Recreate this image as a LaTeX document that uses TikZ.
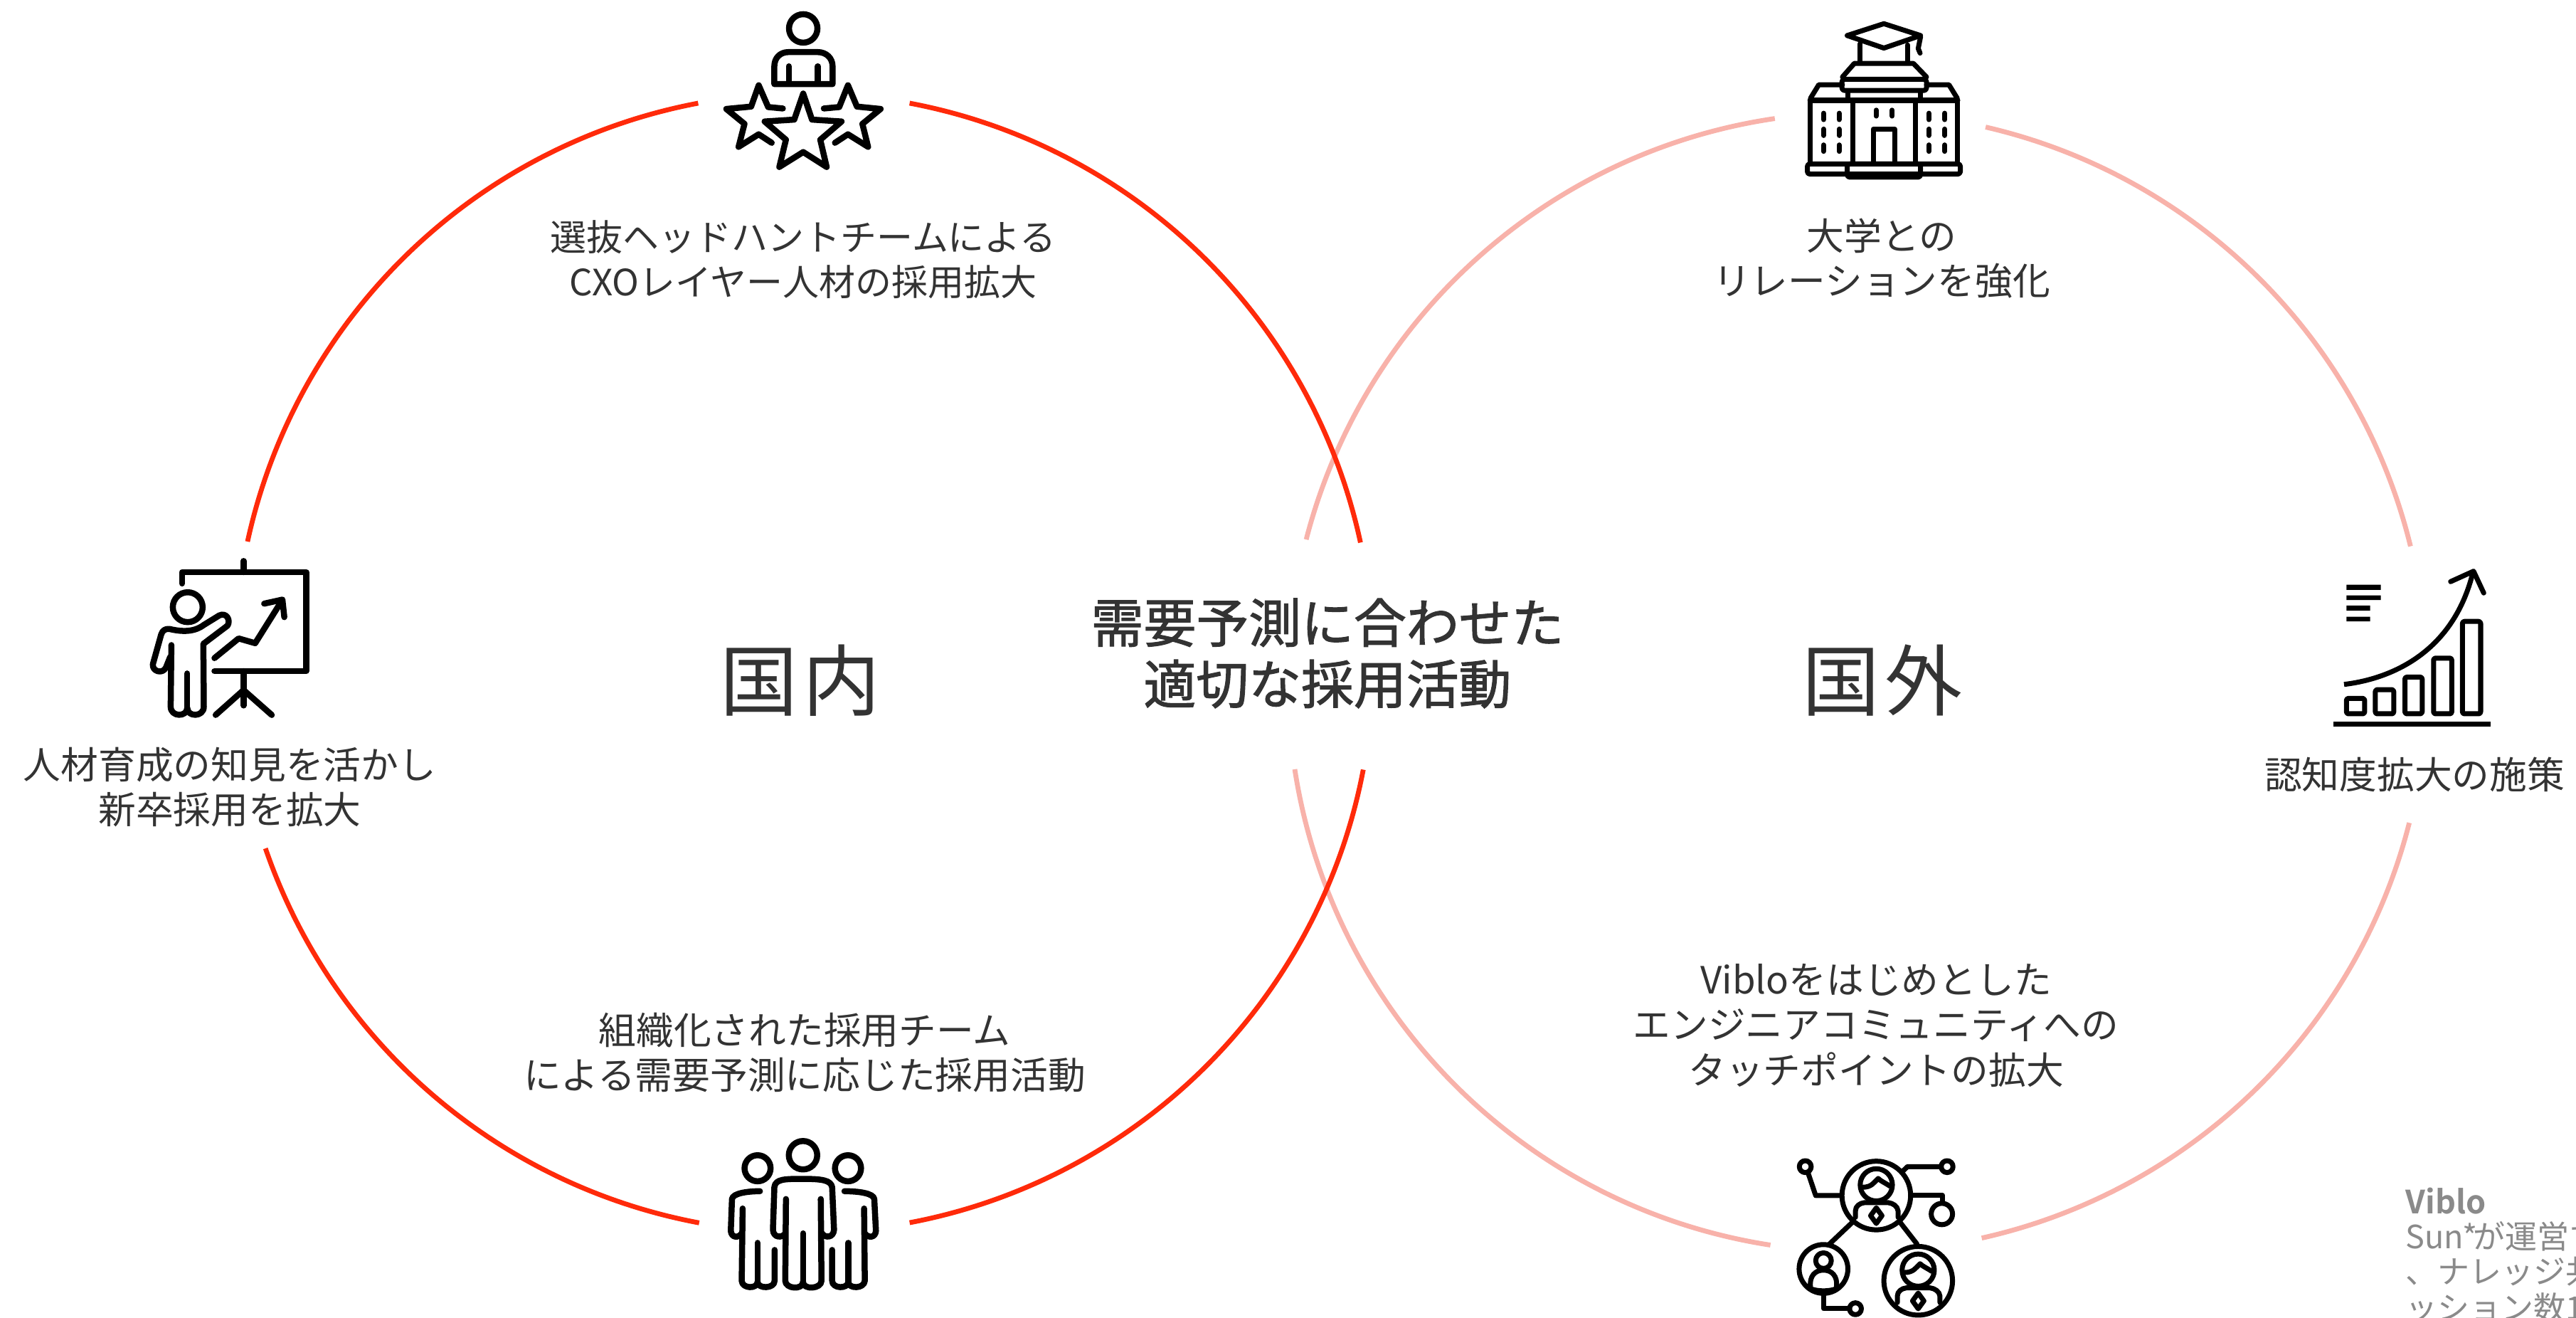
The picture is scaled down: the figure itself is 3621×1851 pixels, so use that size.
\documentclass[tikz,border=0pt]{standalone}
\usepackage{fontspec}
\setmainfont{Noto Sans CJK JP}
\newfontfamily\plaincjk{Noto Sans CJK JP}
\newfontfamily\medcjk[FakeBold=1.5]{Noto Sans CJK JP}
\newfontfamily\boldcjk{Noto Sans CJK JP Bold}
\definecolor{ringred}{HTML}{FF2A0A}
\definecolor{ringpink}{HTML}{F8B2AA}
\definecolor{inktext}{HTML}{333333}
\definecolor{notegray}{HTML}{8A8A8A}
\newcommand{\ringarc}[4]{\draw[#1] ([shift={(#3:8cm)}]#2) arc[start angle=#3,end angle=#4,radius=8cm];}
\tikzset{
 redring/.style={draw=ringred,line width=0.068cm},
 pinkring/.style={draw=ringpink,line width=0.068cm},
 label/.style={font=\fontsize{15}{18}\selectfont,text=inktext,align=center,inner sep=0pt},
 biglabel/.style={font=\plaincjk\fontsize{31}{36}\selectfont,text=inktext,inner sep=0pt},
 midlabel/.style={font=\medcjk\fontsize{21}{24.5}\selectfont,text=inktext,align=center,inner sep=0pt},
 notelabel/.style={font=\plaincjk\fontsize{12.8}{14.2}\selectfont,text=notegray,anchor=west,inner sep=0pt},
 iconline/.style={draw=black,line width=0.085cm,line cap=round,line join=round},
 thinicon/.style={draw=black,line width=0.07cm,line cap=round,line join=round},
 zoomed/.style={x=0.0033333cm,y=-0.0033333cm},
 suitperson/.pic={
   \draw[thinicon] (0,-45) circle[radius=68];
   \draw[thinicon] (-57,-35) .. controls (-20,-35) and (-10,-55) .. (8,-72) .. controls (20,-60) and (35,-55) .. (57,-40);
   \draw[thinicon] (-88,92) -- (-88,65) .. controls (-88,45) and (-70,32) .. (-50,30) -- (50,30) .. controls (70,32) and (90,45) .. (92,65) -- (92,92);
   \draw[thinicon] (0,52) -- (24,85) -- (0,118) -- (-24,85) -- cycle;
 }
}
\begin{document}
\begin{tikzpicture}[x=0.01cm,y=-0.01cm]
\useasboundingbox (0,0) rectangle (3621,1851);
\fill[white] (0,0) rectangle (3621,1851);
\coordinate (LC) at (1130,931.5);
\coordinate (RC) at (2611,958.5);
% right ring first
\ringarc{pinkring}{RC}{98.35}{165.5}
\ringarc{pinkring}{RC}{13.8}{77}
\ringarc{pinkring}{RC}{-77.4}{-14.3}
\ringarc{pinkring}{RC}{188.8}{261.2}
% left ring
\ringarc{redring}{LC}{100.7}{167.7}
\ringarc{redring}{LC}{12.2}{79.3}
\ringarc{redring}{LC}{-79.3}{-10.8}
\ringarc{redring}{LC}{199}{259.4}
% labels
\node[label,font=\fontsize{14.5}{18}\selectfont] (tl) at (1129,365) {選抜ヘッドハントチームによる\\CXOレイヤー人材の採用拡大};
\node[label] (tr) at (2645,363) {大学との\\リレーションを強化};
\node[label] (ll) at (323,1106) {人材育成の知見を活かし\\新卒採用を拡大};
\node[label] (rr) at (3394,1088) {認知度拡大の施策};
\node[label] (bl) at (1131,1479) {組織化された採用チーム\\による需要予測に応じた採用活動};
\node[label] (br) at (2637,1441) {Vibloをはじめとした\\エンジニアコミュニティへの\\タッチポイントの拡大};
\node[biglabel] (dom) at (1125,956) {国\kern0.07em 内};
\node[biglabel] (ovs) at (2646,956) {国\kern0.07em 外};
\node[midlabel] (mid) at (1866,918) {需要予測に合わせた\\適切な採用活動};
% note, cut by the page edge
\begin{scope}
\clip (0,0) rectangle (3621,1851);
\node[notelabel,font=\boldcjk\fontsize{12.8}{14.2}\selectfont] (n0) at (3381,1688) {Viblo};
\node[notelabel] (n1) at (3381,1737) {Sun*\kern-0.13em が運営す};
\node[notelabel] (n2) at (3381,1787) {、ナレッジ共};
\node[notelabel] (n3) at (3381,1837) {ッション数1};
\end{scope}
% stars icon
\begin{scope}[shift={(950,0)},zoomed]
\draw[iconline] (538,120) circle[radius=60];
\draw[iconline] (416,355) -- (416,280) .. controls (416,245) and (440,220) .. (475,220) -- (600,220) .. controls (635,220) and (662,245) .. (662,280) -- (662,355) -- cycle;
\draw[iconline] (477,280) -- (477,350) (600,280) -- (600,350);
\draw[iconline] (538,395) -- (575,505) -- (700,513) -- (610,590) -- (637,705) -- (538,642) -- (437,705) -- (465,590) -- (375,513) -- (500,505) -- cycle;
\draw[iconline] (452,458) -- (390,452) -- (350,360) -- (318,450) -- (213,460) -- (290,523) -- (265,620) -- (350,567) -- (405,603);
\draw[iconline] (625,458) -- (690,452) -- (727,360) -- (765,450) -- (865,460) -- (788,523) -- (812,620) -- (727,567) -- (672,603);
\end{scope}
% university icon
\begin{scope}[shift={(2480,0)},zoomed]
\draw[thinicon] (505,100) -- (660,150) -- (505,203) -- (350,150) -- cycle;
\draw[thinicon] (405,185) -- (405,265) (605,190) -- (605,265);
\draw[thinicon] (660,155) -- (650,205) -- (658,224);
\draw[thinicon] (380,268) -- (630,268) -- (685,325) (380,268) -- (330,325);
\draw[thinicon,rounded corners=1pt] (328,335) rectangle (685,382);
\draw[thinicon] (195,415) -- (230,358) -- (330,358) (815,415) -- (780,358) -- (685,358);
\draw[iconline] (195,423) -- (815,423);
\draw[thinicon] (352,385) -- (352,423) (658,385) -- (658,423);
\draw[thinicon] (195,423) -- (195,690) (373,423) -- (373,690) (638,423) -- (638,690) (817,423) -- (817,690);
\draw[thinicon,rounded corners=1pt] (182,692) rectangle (828,735);
\draw[thinicon,rounded corners=1pt] (350,692) rectangle (660,748);
\draw[thinicon] (460,690) -- (460,545) -- (550,545) -- (550,690);
\foreach \wx in {250,316,695,762} \foreach \wy in {478,545,612}
  \draw[thinicon] (\wx,\wy) -- (\wx,\wy+27);
\foreach \wx in {472,540} \draw[thinicon] (\wx,465) -- (\wx,490);
\end{scope}
% presenter icon
\begin{scope}[shift={(180,760)},zoomed]
\draw[iconline] (228,180) -- (228,132) -- (752,132) -- (752,550) -- (365,550);
\draw[iconline] (488,85) -- (488,132) (488,550) -- (488,695);
\draw[iconline] (370,735) -- (488,630) -- (607,735);
\draw[iconline] (365,495) -- (467,412) -- (537,432) -- (650,252);
\draw[iconline] (575,265) -- (652,248) -- (660,322);
\draw[iconline] (252,280) circle[radius=63];
\draw[iconline] (183,440) -- (180,700) .. controls (180,745) and (250,745) .. (250,705) .. controls (250,745) and (320,745) .. (320,700) -- (318,435) -- (420,358) .. controls (435,335) and (415,300) .. (385,315) -- (320,355) .. controls (280,385) and (230,385) .. (175,372) .. controls (155,370) and (145,380) .. (140,395) -- (105,520) .. controls (100,550) and (145,565) .. (160,535) -- (178,490);
\draw[iconline] (250,560) -- (250,705);
\end{scope}
% chart icon
\begin{scope}[shift={(3250,780)},zoomed]
\fill[black] (90,703) rectangle (755,725);
\fill[black] (145,125) rectangle (290,147) (145,170) rectangle (290,190) (145,213) rectangle (245,235) (145,260) rectangle (245,280);
\draw[thinicon,rounded corners=0.8pt] (145,605) rectangle (222,670);
\draw[thinicon,rounded corners=0.8pt] (267,568) rectangle (345,670);
\draw[thinicon,rounded corners=0.8pt] (392,515) rectangle (465,670);
\draw[thinicon,rounded corners=0.8pt] (513,435) rectangle (590,670);
\draw[thinicon,rounded corners=0.8pt] (635,280) rectangle (712,670);
\draw[thinicon,line cap=butt] (135,546) .. controls (350,520) and (600,400) .. (680,70);
\draw[thinicon] (585,112) -- (682,68) -- (725,160);
\end{scope}
% team icon
\begin{scope}[shift={(980,1570)},zoomed]
\draw[iconline] (447,160) circle[radius=60];
\draw[iconline] (255,215) circle[radius=55];
\draw[iconline] (637,215) circle[radius=55];
\draw[iconline] (372,490) .. controls (360,510) and (322,510) .. (320,475) -- (326,295) .. controls (330,260) and (370,260) .. (447,260) .. controls (525,260) and (565,265) .. (570,295) -- (578,475) .. controls (575,510) and (540,510) .. (527,490);
\draw[iconline] (375,345) -- (372,690) .. controls (372,725) and (447,730) .. (447,695) .. controls (447,730) and (525,725) .. (525,690) -- (522,345);
\draw[iconline] (447,490) -- (447,695);
\draw[iconline] (265,312) .. controls (215,312) and (150,320) .. (147,345) -- (142,480) .. controls (145,510) and (175,510) .. (188,490);
\draw[iconline] (192,385) -- (188,690) .. controls (190,725) and (255,725) .. (255,695) .. controls (255,725) and (327,725) .. (327,690) -- (327,560);
\draw[iconline] (255,530) -- (255,695);
\draw[iconline] (622,312) .. controls (680,312) and (745,320) .. (748,345) -- (755,480) .. controls (752,510) and (722,510) .. (708,490);
\draw[iconline] (705,385) -- (708,690) .. controls (706,725) and (638,725) .. (638,695) .. controls (638,725) and (570,725) .. (570,690) -- (570,560);
\draw[iconline] (638,530) -- (638,695);
\end{scope}
% network icon
\begin{scope}[shift={(2480,1600)},zoomed]
\draw[thinicon] (473,240) circle[radius=145];
\pic at (473,240) {suitperson};
\draw[thinicon] (173,118) circle[radius=25];
\draw[thinicon] (185,145) -- (217,240) -- (325,240);
\draw[thinicon] (772,118) circle[radius=25];
\draw[thinicon] (747,118) -- (605,118) -- (585,137);
\draw[thinicon] (620,240) -- (752,240) -- (752,270);
\draw[thinicon] (750,318) circle[radius=45];
\draw[thinicon] (370,355) -- (275,445) (575,355) -- (645,445);
\draw[thinicon] (250,550) circle[radius=103];
\draw[thinicon] (250,515) circle[radius=33];
\draw[thinicon] (195,625) .. controls (190,580) and (215,555) .. (250,555) .. controls (285,555) and (310,580) .. (305,625);
\draw[thinicon] (200,635) .. controls (230,645) and (270,645) .. (300,635);
\draw[thinicon] (250,655) -- (250,718) -- (360,718);
\draw[thinicon] (385,718) circle[radius=25];
\draw[thinicon] (650,600) circle[radius=145];
\pic at (650,600) {suitperson};
\end{scope}
\end{tikzpicture}
\end{document}
